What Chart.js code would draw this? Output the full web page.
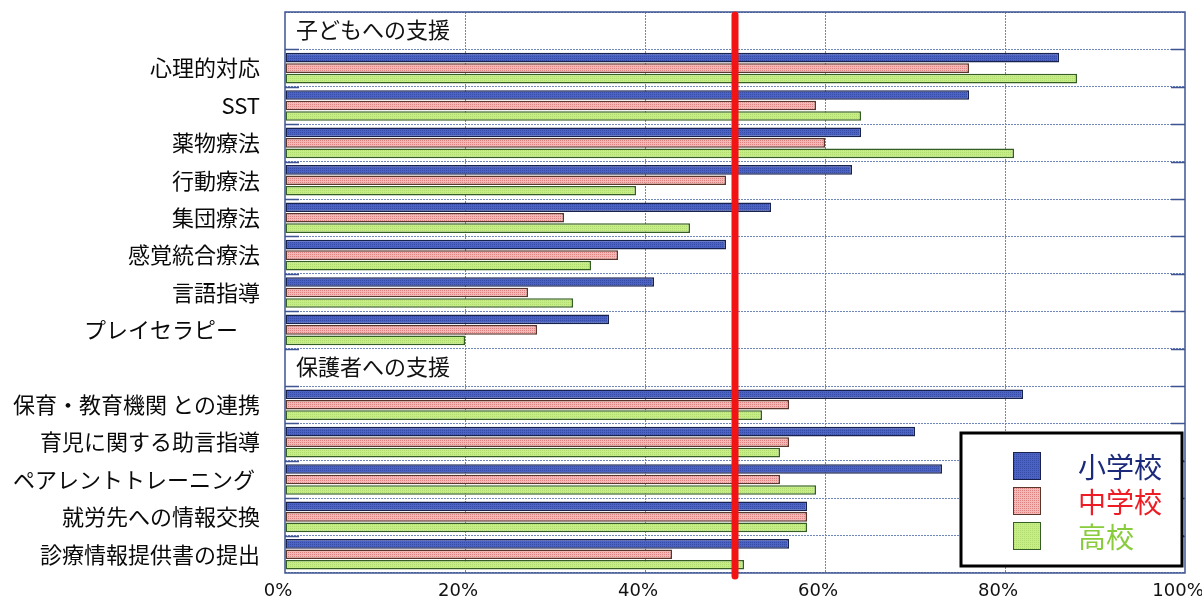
<!DOCTYPE html>
<html>
<head>
<meta charset="utf-8">
<script src="https://cdn.jsdelivr.net/npm/chart.js@4.4.0/dist/chart.umd.min.js"></script>
<style>
  html, body { margin: 0; padding: 0; background: #ffffff; }
  #wrap { width: 1202px; height: 607px; position: relative; }
</style>
</head>
<body>
<div id="wrap"><canvas id="chart"></canvas></div>
<script>
// Rows of the chart; an empty label marks a section heading row
const categories = [
  '', '心理的対応', 'SST', '薬物療法', '行動療法', '集団療法', '感覚統合療法', '言語指導', 'プレイセラピー　',
  '', '保育・教育機関 との連携', '育児に関する助言指導', 'ペアレントトレーニング ', '就労先への情報交換', '診療情報提供書の提出'
];
const sectionTitles = ['子どもへの支援', '保護者への支援'];
const seriesNames = ['小学校', '中学校', '高校'];

// Percent values per school type
const elementary = [null, 86, 76, 64, 63, 54, 49, 41, 36, null, 82, 70, 73, 58, 56];
const juniorHigh = [null, 76, 59, 60, 49, 31, 37, 27, 28, null, 56, 56, 55, 58, 43];
const highSchool = [null, 88, 64, 81, 39, 45, 34, 32, 20, null, 53, 55, 59, 58, 51];

const xTicks = [0, 20, 40, 60, 80, 100];
const referenceLine = 50;

// Stippled fills
function makePattern(base, dot) {
  const c = document.createElement('canvas');
  c.width = 4; c.height = 4;
  const g = c.getContext('2d');
  g.fillStyle = base; g.fillRect(0, 0, 4, 4);
  g.fillStyle = dot;
  g.fillRect(0, 0, 1, 1); g.fillRect(2, 2, 1, 1);
  g.fillRect(2, 0, 1, 1); g.fillRect(0, 2, 1, 1);
  return g.createPattern(c, 'repeat');
}

const fills = [
  makePattern('#4b63c4', '#364ca6'),
  makePattern('#f4b8b6', '#de8282'),
  makePattern('#c6ee86', '#b2dc70')
];
const edges = ['#18224f', '#5a362c', '#355e24'];
const textColors = ['#1b2a7a', '#ee1c24', '#88cc3c'];
const frameColor = '#3f5592';
const gridColor = '#6f86bb';

const CJK = "'Noto Sans CJK JP', 'Noto Sans', sans-serif";
const NARROW = "'DejaVu Sans', sans-serif";

// keep the plot area exactly inside the layout padding
function noScalePadding(scale) {
  scale.paddingTop = 0; scale.paddingBottom = 0;
  scale.paddingLeft = 0; scale.paddingRight = 0;
}

const decorations = {
  id: 'decorations',
  afterDatasetsDraw(chart) {
    const { ctx, chartArea: a, scales: { x, y } } = chart;
    const half = (y.getPixelForValue(1) - y.getPixelForValue(0)) / 2;
    ctx.save();

    // short inward tick marks on both frame sides
    ctx.strokeStyle = frameColor;
    ctx.lineWidth = 1.5;
    for (let i = 1; i < categories.length; i++) {
      const py = Math.round(y.getPixelForValue(i) - half) + 0.5;
      ctx.beginPath();
      ctx.moveTo(a.left, py); ctx.lineTo(a.left + 14, py);
      ctx.moveTo(a.right - 14, py); ctx.lineTo(a.right, py);
      ctx.stroke();
    }

    // plot frame
    ctx.lineWidth = 1.5;
    ctx.strokeRect(a.left, a.top, a.right - a.left, a.bottom - a.top);

    // section headings
    ctx.fillStyle = '#111111';
    ctx.font = '22px ' + CJK;
    ctx.textAlign = 'left';
    ctx.textBaseline = 'middle';
    let s = 0;
    categories.forEach((c, i) => {
      if (c === '' && s < sectionTitles.length) {
        ctx.fillText(sectionTitles[s++], a.left + 11, y.getPixelForValue(i) - 1);
      }
    });

    // 50% reference line
    const rx = x.getPixelForValue(referenceLine);
    ctx.strokeStyle = '#f21414';
    ctx.lineWidth = 7;
    ctx.lineCap = 'round';
    ctx.beginPath();
    ctx.moveTo(rx, a.top + 3);
    ctx.lineTo(rx, a.bottom + 3);
    ctx.stroke();

    // legend box
    const bx = a.right - 224, by = a.bottom - 140, bw = 221, bh = 133;
    ctx.lineCap = 'butt';
    ctx.fillStyle = '#ffffff';
    ctx.fillRect(bx, by, bw, bh);
    ctx.strokeStyle = '#000000';
    ctx.lineWidth = 3;
    ctx.strokeRect(bx, by, bw, bh);
    ctx.font = '28px ' + CJK;
    seriesNames.forEach((name, i) => {
      const sy = by + 19 + i * 35;
      ctx.fillStyle = fills[i];
      ctx.fillRect(bx + 52, sy, 28, 28);
      ctx.strokeStyle = edges[i];
      ctx.lineWidth = 1;
      ctx.strokeRect(bx + 52.5, sy + 0.5, 27, 27);
      ctx.fillStyle = textColors[i];
      ctx.textBaseline = 'middle';
      ctx.fillText(name, bx + 117, sy + 15);
    });
    ctx.restore();
  }
};

const seriesValues = [elementary, juniorHigh, highSchool];

new Chart(document.getElementById('chart'), {
  type: 'bar',
  data: {
    labels: categories,
    datasets: seriesNames.map((name, i) => ({
      label: name,
      data: seriesValues[i],
      backgroundColor: fills[i],
      borderColor: edges[i],
      borderWidth: 1.5,
      borderSkipped: false,
      categoryPercentage: 0.84,
      barPercentage: 0.92
    }))
  },
  options: {
    indexAxis: 'y',
    responsive: true,
    maintainAspectRatio: false,
    animation: false,
    devicePixelRatio: 1,
    layout: { autoPadding: false, padding: { top: 12, right: 17, left: 0, bottom: 0 } },
    plugins: { legend: { display: false }, tooltip: { enabled: false } },
    scales: {
      x: {
        min: 0,
        max: 100,
        afterBuildTicks(scale) { scale.ticks = xTicks.map(v => ({ value: v })); },
        afterFit(scale) { scale.height = 34; noScalePadding(scale); },
        grid: {
          drawTicks: false,
          color: ctx => (ctx.tick && (ctx.tick.value === 0 || ctx.tick.value === 100)) ? 'rgba(0,0,0,0)' : gridColor,
          lineWidth: 1
        },
        border: { display: false, dash: [2, 1] },
        ticks: {
          padding: 8,
          labelOffset: -7,
          color: '#111111',
          font: { family: NARROW, size: 18, style: 'condensed' },
          callback: v => v + '%'
        }
      },
      y: {
        afterFit(scale) { scale.width = 285; noScalePadding(scale); },
        grid: { drawTicks: false, color: gridColor, lineWidth: 1, offset: true },
        border: { display: false, dash: [2, 1] },
        ticks: {
          autoSkip: false,
          padding: 25,
          color: '#0a0a0a',
          font: { family: CJK, size: 22 }
        }
      }
    }
  },
  plugins: [decorations]
});
</script>
</body>
</html>
